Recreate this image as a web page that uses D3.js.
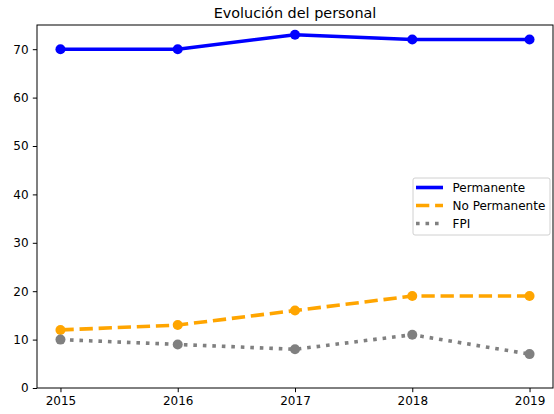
<!DOCTYPE html>
<html>
<head>
<meta charset="utf-8">
<script src="https://cdn.jsdelivr.net/npm/d3@7"></script>
<style>
  body { margin: 0; background: #fff; }
  svg { font-family: "DejaVu Sans", sans-serif; }
</style>
</head>
<body>
<svg id="chart" width="554" height="414"></svg>
<script>
var years = [2015, 2016, 2017, 2018, 2019];
var permanente = [70, 70, 73, 72, 72];
var noPermanente = [12, 13, 16, 19, 19];
var fpi = [10, 9, 8, 11, 7];
var yTicks = [0, 10, 20, 30, 40, 50, 60, 70];

var series = [
  { name: "Permanente", values: permanente, color: "#0000ff", dash: null },
  { name: "No Permanente", values: noPermanente, color: "#ffa500", dash: "13.3,5.8" },
  { name: "FPI", values: fpi, color: "#808080", dash: "3.6,5.9" }
];

var margin = { top: 25, right: 1, bottom: 26, left: 37 };
var width = 554 - margin.left - margin.right,
    height = 414 - margin.top - margin.bottom;

var x = d3.scaleLinear().domain([2014.8, 2019.2]).range([0, width]);
var y = d3.scaleLinear().domain([0, 75]).range([height, 0]);

var svg = d3.select("#chart")
  .append("g")
  .attr("transform", "translate(" + margin.left + "," + margin.top + ")");

var line = d3.line()
  .x((d, i) => x(years[i]))
  .y(d => y(d));

series.forEach(function (s) {
  svg.append("path")
    .datum(s.values)
    .attr("d", line)
    .attr("fill", "none")
    .attr("stroke", s.color)
    .attr("stroke-width", 3.6)
    .attr("stroke-dasharray", s.dash)
    .attr("stroke-linejoin", "round");

  svg.selectAll(null)
    .data(s.values)
    .enter()
    .append("circle")
    .attr("cx", (d, i) => x(years[i]))
    .attr("cy", d => y(d))
    .attr("r", 5)
    .attr("fill", s.color);
});

var xAxis = d3.axisBottom(x).tickValues(years).tickFormat(d3.format("d"))
  .tickSizeOuter(0).tickSizeInner(4.2).tickPadding(4.2);
var yAxis = d3.axisLeft(y).tickValues(yTicks)
  .tickSizeOuter(0).tickSizeInner(4.2).tickPadding(4.2);

var gx = svg.append("g")
  .attr("transform", "translate(0," + height + ")")
  .call(xAxis);
var gy = svg.append("g").call(yAxis);

[gx, gy].forEach(function (g) {
  g.select(".domain").remove();
  g.selectAll("text").attr("font-size", "12px").attr("fill", "#000")
    .attr("font-family", "DejaVu Sans, sans-serif");
  g.selectAll("line").attr("stroke", "#000").attr("stroke-width", 1);
});

// frame
svg.append("rect")
  .attr("x", 0).attr("y", 0)
  .attr("width", width).attr("height", height)
  .attr("fill", "none")
  .attr("stroke", "#000")
  .attr("stroke-width", 1);

svg.append("text")
  .attr("x", width / 2)
  .attr("y", -7)
  .attr("text-anchor", "middle")
  .attr("font-size", "14.4px")
  .text("Evolución del personal");

// legend
var legend = svg.append("g")
  .attr("transform", "translate(" + (413 - margin.left) + "," + (178 - margin.top) + ")");

legend.append("rect")
  .attr("width", 137).attr("height", 57)
  .attr("rx", 2)
  .attr("fill", "#fff").attr("fill-opacity", 0.8)
  .attr("stroke", "#d0d0d0");

series.forEach(function (s, i) {
  var ly = 9.5 + i * 18;
  legend.append("line")
    .attr("x1", 3).attr("x2", 30)
    .attr("y1", ly).attr("y2", ly)
    .attr("stroke", s.color)
    .attr("stroke-width", 3.6)
    .attr("stroke-dasharray", s.dash);
  legend.append("text")
    .attr("x", 39.5)
    .attr("y", ly + 4.3)
    .attr("font-size", "12px")
    .text(s.name);
});
</script>
</body>
</html>
